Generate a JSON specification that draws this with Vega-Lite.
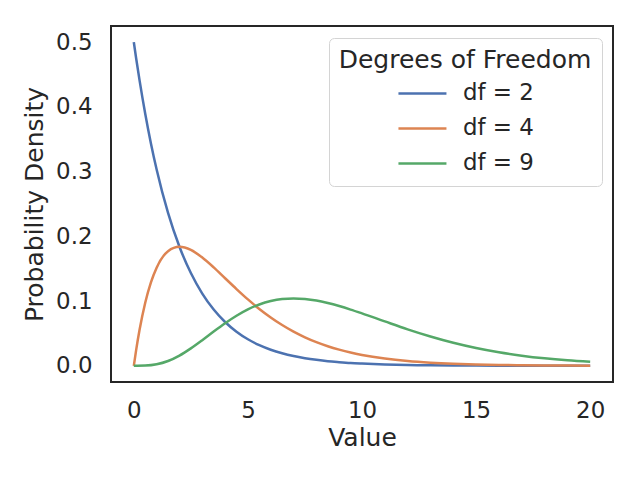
{
  "$schema": "https://vega.github.io/schema/vega-lite/v6.json",
  "width": 502,
  "height": 356,
  "autosize": "none",
  "padding": {"left": 111, "top": 26, "right": 27, "bottom": 98},
  "background": "white",
  "config": {
    "font": "DejaVu Sans",
    "view": {"stroke": "#262626", "strokeWidth": 2},
    "axis": {
      "grid": false, "domain": false, "ticks": false, "tickSize": 0,
      "labelFont": "DejaVu Sans", "labelFontSize": 22.9, "labelColor": "#262626",
      "titleFont": "DejaVu Sans", "titleFontSize": 25, "titleColor": "#262626", "titleFontWeight": "normal"
    }
  },
  "data": {
    "values": [
      {"x": 0, "y": 0.5, "df": "df = 2"},
      {"x": 0.1, "y": 0.4756, "df": "df = 2"},
      {"x": 0.25, "y": 0.4413, "df": "df = 2"},
      {"x": 0.5, "y": 0.3894, "df": "df = 2"},
      {"x": 0.75, "y": 0.3436, "df": "df = 2"},
      {"x": 1, "y": 0.3033, "df": "df = 2"},
      {"x": 1.5, "y": 0.2362, "df": "df = 2"},
      {"x": 2, "y": 0.1839, "df": "df = 2"},
      {"x": 2.5, "y": 0.1433, "df": "df = 2"},
      {"x": 3, "y": 0.1116, "df": "df = 2"},
      {"x": 3.5, "y": 0.0869, "df": "df = 2"},
      {"x": 4, "y": 0.0677, "df": "df = 2"},
      {"x": 4.5, "y": 0.0527, "df": "df = 2"},
      {"x": 5, "y": 0.041, "df": "df = 2"},
      {"x": 5.5, "y": 0.032, "df": "df = 2"},
      {"x": 6, "y": 0.0249, "df": "df = 2"},
      {"x": 6.5, "y": 0.0194, "df": "df = 2"},
      {"x": 7, "y": 0.0151, "df": "df = 2"},
      {"x": 7.5, "y": 0.0118, "df": "df = 2"},
      {"x": 8, "y": 0.0092, "df": "df = 2"},
      {"x": 8.5, "y": 0.0071, "df": "df = 2"},
      {"x": 9, "y": 0.0056, "df": "df = 2"},
      {"x": 9.5, "y": 0.0043, "df": "df = 2"},
      {"x": 10, "y": 0.0034, "df": "df = 2"},
      {"x": 11, "y": 0.002, "df": "df = 2"},
      {"x": 12, "y": 0.0012, "df": "df = 2"},
      {"x": 13, "y": 0.0008, "df": "df = 2"},
      {"x": 14, "y": 0.0005, "df": "df = 2"},
      {"x": 15, "y": 0.0003, "df": "df = 2"},
      {"x": 16, "y": 0.0002, "df": "df = 2"},
      {"x": 17, "y": 0.0001, "df": "df = 2"},
      {"x": 18, "y": 0.0001, "df": "df = 2"},
      {"x": 19, "y": 0.00004, "df": "df = 2"},
      {"x": 20, "y": 0.00002, "df": "df = 2"},
      {"x": 0, "y": 0, "df": "df = 4"},
      {"x": 0.1, "y": 0.0238, "df": "df = 4"},
      {"x": 0.25, "y": 0.0552, "df": "df = 4"},
      {"x": 0.5, "y": 0.0974, "df": "df = 4"},
      {"x": 0.75, "y": 0.1289, "df": "df = 4"},
      {"x": 1, "y": 0.1516, "df": "df = 4"},
      {"x": 1.5, "y": 0.1771, "df": "df = 4"},
      {"x": 2, "y": 0.1839, "df": "df = 4"},
      {"x": 2.5, "y": 0.1791, "df": "df = 4"},
      {"x": 3, "y": 0.1673, "df": "df = 4"},
      {"x": 3.5, "y": 0.1521, "df": "df = 4"},
      {"x": 4, "y": 0.1353, "df": "df = 4"},
      {"x": 4.5, "y": 0.1186, "df": "df = 4"},
      {"x": 5, "y": 0.1026, "df": "df = 4"},
      {"x": 5.5, "y": 0.0879, "df": "df = 4"},
      {"x": 6, "y": 0.0747, "df": "df = 4"},
      {"x": 6.5, "y": 0.063, "df": "df = 4"},
      {"x": 7, "y": 0.0528, "df": "df = 4"},
      {"x": 7.5, "y": 0.0441, "df": "df = 4"},
      {"x": 8, "y": 0.0366, "df": "df = 4"},
      {"x": 8.5, "y": 0.0303, "df": "df = 4"},
      {"x": 9, "y": 0.025, "df": "df = 4"},
      {"x": 9.5, "y": 0.0205, "df": "df = 4"},
      {"x": 10, "y": 0.0168, "df": "df = 4"},
      {"x": 11, "y": 0.0112, "df": "df = 4"},
      {"x": 12, "y": 0.0074, "df": "df = 4"},
      {"x": 13, "y": 0.0049, "df": "df = 4"},
      {"x": 14, "y": 0.0032, "df": "df = 4"},
      {"x": 15, "y": 0.0021, "df": "df = 4"},
      {"x": 16, "y": 0.0013, "df": "df = 4"},
      {"x": 17, "y": 0.0009, "df": "df = 4"},
      {"x": 18, "y": 0.0006, "df": "df = 4"},
      {"x": 19, "y": 0.0004, "df": "df = 4"},
      {"x": 20, "y": 0.0002, "df": "df = 4"},
      {"x": 0, "y": 0, "df": "df = 9"},
      {"x": 0.5, "y": 0.0003, "df": "df = 9"},
      {"x": 1, "y": 0.0023, "df": "df = 9"},
      {"x": 1.5, "y": 0.0074, "df": "df = 9"},
      {"x": 2, "y": 0.0158, "df": "df = 9"},
      {"x": 2.5, "y": 0.0269, "df": "df = 9"},
      {"x": 3, "y": 0.0396, "df": "df = 9"},
      {"x": 3.5, "y": 0.053, "df": "df = 9"},
      {"x": 4, "y": 0.0658, "df": "df = 9"},
      {"x": 4.5, "y": 0.0774, "df": "df = 9"},
      {"x": 5, "y": 0.0872, "df": "df = 9"},
      {"x": 5.5, "y": 0.0948, "df": "df = 9"},
      {"x": 6, "y": 0.1001, "df": "df = 9"},
      {"x": 6.5, "y": 0.1032, "df": "df = 9"},
      {"x": 7, "y": 0.1041, "df": "df = 9"},
      {"x": 7.5, "y": 0.1032, "df": "df = 9"},
      {"x": 8, "y": 0.1008, "df": "df = 9"},
      {"x": 8.5, "y": 0.097, "df": "df = 9"},
      {"x": 9, "y": 0.0923, "df": "df = 9"},
      {"x": 9.5, "y": 0.0869, "df": "df = 9"},
      {"x": 10, "y": 0.081, "df": "df = 9"},
      {"x": 11, "y": 0.0686, "df": "df = 9"},
      {"x": 12, "y": 0.0564, "df": "df = 9"},
      {"x": 13, "y": 0.0453, "df": "df = 9"},
      {"x": 14, "y": 0.0356, "df": "df = 9"},
      {"x": 15, "y": 0.0275, "df": "df = 9"},
      {"x": 16, "y": 0.0209, "df": "df = 9"},
      {"x": 17, "y": 0.0157, "df": "df = 9"},
      {"x": 18, "y": 0.0116, "df": "df = 9"},
      {"x": 19, "y": 0.0085, "df": "df = 9"},
      {"x": 20, "y": 0.0062, "df": "df = 9"}
    ]
  },
  "mark": {"type": "line", "strokeWidth": 2.5, "interpolate": "monotone", "clip": true},
  "encoding": {
    "x": {
      "field": "x", "type": "quantitative", "title": "Value",
      "scale": {"domain": [-1, 21], "nice": false, "zero": false},
      "axis": {"values": [0, 5, 10, 15, 20], "labelPadding": 17, "titlePadding": 4}
    },
    "y": {
      "field": "y", "type": "quantitative", "title": "Probability Density",
      "scale": {"domain": [-0.025, 0.525], "nice": false, "zero": false},
      "axis": {"values": [0, 0.1, 0.2, 0.3, 0.4, 0.5], "format": ".1f", "labelPadding": 19, "titlePadding": 8}
    },
    "color": {
      "field": "df", "type": "nominal",
      "scale": {"domain": ["df = 2", "df = 4", "df = 9"], "range": ["#4c72b0", "#dd8452", "#55a868"]},
      "legend": {
        "title": "Degrees of Freedom",
        "orient": "none", "legendX": 218, "legendY": 12,
        "padding": 10, "cornerRadius": 5, "strokeColor": "#d4d4d4", "fillColor": "white",
        "titleFontSize": 25, "titleFontWeight": "normal", "titleColor": "#262626", "titleAnchor": "middle", "titlePadding": 9, "titleLimit": 400,
        "labelFontSize": 22.9, "labelColor": "#262626", "labelOffset": 29, "labelLimit": 300,
        "symbolType": "M-4,0H4", "symbolSize": 144, "symbolStrokeWidth": 2.5, "symbolOffset": 14,
        "rowPadding": 11
      }
    }
  }
}
